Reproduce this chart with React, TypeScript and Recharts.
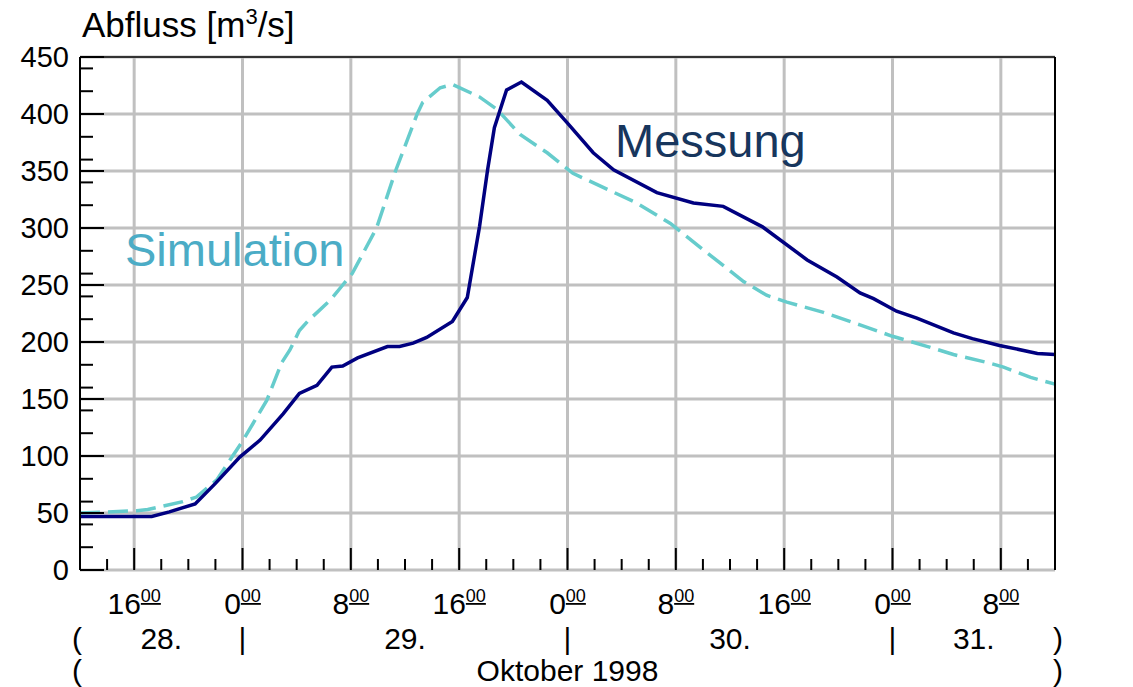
import React from 'react';
import { LineChart, Line, XAxis, YAxis, CartesianGrid, ReferenceLine } from 'recharts';

// hours since 28 Oct 12:00
const messungHours = [0, 5.3, 6.6, 8.5, 10, 11.8, 13.3, 15, 16.2, 17.5, 18.6, 19.4, 20.5, 22.7, 23.6, 24.6, 25.6, 27.5, 28.6, 29.5, 30.1, 30.6, 31.5, 32.6, 34.5, 36, 37.9, 39.4, 42.6, 45.3, 47.5, 50.4, 53.7, 55.9, 57.6, 58.6, 60.3, 61.8, 64.5, 65.9, 67.9, 70.7, 72];
const messungValues = [47, 47, 51, 58, 76, 99, 114, 137, 155, 162, 178, 179, 186, 196, 196, 199, 204, 218, 239, 301, 351, 388, 421, 428, 412, 392, 366, 351, 331, 322, 319, 301, 272, 257, 243, 238, 227, 221, 208, 203, 197, 190, 189];

const simHours = [0, 4.2, 5.0, 7.6, 8.6, 10.1, 12, 13.8, 14.9, 15.5, 16.2, 16.8, 18.5, 19.4, 20.1, 21.9, 23.3, 24.9, 25.3, 26.6, 27.5, 29.5, 30.8, 32.5, 34.5, 36.4, 38.2, 41.1, 43.6, 45.8, 49, 50.7, 52.2, 54.9, 57.6, 60, 62.6, 64.5, 67, 68.2, 70.2, 72];
const simValues = [50, 52, 53, 60, 64, 79, 113, 149, 182, 193, 210, 218, 237, 250, 260, 300, 350, 400, 410, 423, 426, 415, 404, 382, 366, 348, 338, 322, 304, 283, 253, 241, 235, 226, 215, 205, 196, 189, 182, 178, 169, 163];

const yLabelTicks = [0, 50, 100, 150, 200, 250, 300, 350, 400, 450];
const yMinorTicks = [0, 20, 40, 60, 80, 100, 120, 140, 160, 180, 200, 220, 240, 260, 280, 300, 320, 340, 360, 380, 400, 420, 440];

const xTicks = [0, 2, 4, 6, 8, 10, 12, 14, 16, 18, 20, 22, 24, 26, 28, 30, 32, 34, 36, 38, 40, 42, 44, 46, 48, 50, 52, 54, 56, 58, 60, 62, 64, 66, 68, 70, 72];
const majorHours = [4, 12, 20, 28, 36, 44, 52, 60, 68];
const majorLabels = ['16', '0', '8', '16', '0', '8', '16', '0', '8'];
const dayCenters = [6, 24, 48, 66];
const dayLabels = ['28.', '29.', '30.', '31.'];
const dayBounds = [12, 36, 60];
const monthCenter = 36;
const monthLabel = 'Oktober 1998';

const messungData = messungHours.map((h, i) => ({ h, v: messungValues[i] }));
const simData = simHours.map((h, i) => ({ h, v: simValues[i] }));
const yTicks = Array.from(new Set([...yLabelTicks, ...yMinorTicks])).sort((a, b) => a - b);

const FONT = '"Liberation Sans", Arial, sans-serif';

const XTick = (props: any) => {
  const { x, y, payload } = props;
  const h = payload.value;
  const mi = majorHours.indexOf(h);
  const di = dayCenters.indexOf(h);
  return (
    <g fontFamily={FONT} fill="#000">
      {h > 0 && h < 72 && (
        <line x1={x} x2={x} y1={y} y2={y - (mi >= 0 ? 22 : 11)} stroke="#000" strokeWidth={2} />
      )}
      {mi >= 0 && (
        <text x={x} y={y + 44} textAnchor="middle" fontSize={30}>
          {majorLabels[mi]}
          <tspan dy={-12} fontSize={18} textDecoration="underline">00</tspan>
        </text>
      )}
      {di >= 0 && (
        <text x={x} y={y + 79} textAnchor="middle" fontSize={30}>{dayLabels[di]}</text>
      )}
      {dayBounds.includes(h) && (
        <text x={x} y={y + 79} textAnchor="middle" fontSize={30}>|</text>
      )}
      {h === monthCenter && (
        <text x={x} y={y + 111} textAnchor="middle" fontSize={30}>{monthLabel}</text>
      )}
      {h === 0 && (
        <>
          <text x={x - 3} y={y + 79} textAnchor="middle" fontSize={30}>(</text>
          <text x={x - 3} y={y + 111} textAnchor="middle" fontSize={30}>(</text>
        </>
      )}
      {h === 72 && (
        <>
          <text x={x + 3} y={y + 79} textAnchor="middle" fontSize={30}>)</text>
          <text x={x + 3} y={y + 111} textAnchor="middle" fontSize={30}>)</text>
        </>
      )}
    </g>
  );
};

const YTick = (props: any) => {
  const { x, y, payload, side } = props;
  const v = payload.value;
  const major = yLabelTicks.includes(v);
  const dir = side === 'right' ? -1 : 1;
  return (
    <g fontFamily={FONT}>
      <line x1={x} x2={x + dir * (major ? 24 : 13)} y1={y} y2={y} stroke="#000" strokeWidth={2} />
      {major && (
        <text
          x={x - dir * 11}
          y={y}
          dy="0.36em"
          textAnchor={side === 'right' ? 'start' : 'end'}
          fontSize={29}
          fill="#000"
        >
          {v}
        </text>
      )}
    </g>
  );
};

export default function App() {
  return (
    <div style={{ position: 'absolute', left: 0, top: 0, width: 1133, height: 687, background: '#fff' }}>
      <LineChart width={1133} height={687} margin={{ top: 57, right: 0, bottom: 0, left: 0 }}>
        <CartesianGrid
          yAxisId="left"
          stroke="#c0c0c0"
          strokeWidth={3}
          verticalValues={majorHours}
          horizontalValues={yLabelTicks}
        />
        <XAxis
          type="number"
          dataKey="h"
          domain={[0, 72]}
          ticks={xTicks}
          interval={0}
          tickSize={0}
          tickMargin={0}
          axisLine={false}
          height={117}
          tick={(p: any) => <XTick {...p} />}
        />
        <YAxis
          yAxisId="left"
          domain={[0, 450]}
          ticks={yTicks}
          interval={0}
          width={80}
          tickSize={0}
          tickMargin={0}
          axisLine={{ stroke: '#000', strokeWidth: 2 }}
          tick={(p: any) => <YTick {...p} side="left" />}
        />
        <YAxis
          yAxisId="right"
          orientation="right"
          domain={[0, 450]}
          ticks={yTicks}
          interval={0}
          width={78}
          tickSize={0}
          tickMargin={0}
          axisLine={{ stroke: '#000', strokeWidth: 2 }}
          tick={(p: any) => <YTick {...p} side="right" />}
        />
        <ReferenceLine yAxisId="left" y={450} stroke="#333" strokeWidth={2} />
        <Line
          yAxisId="left"
          data={simData}
          dataKey="v"
          type="linear"
          stroke="#66cccc"
          strokeWidth={3.5}
          strokeDasharray="20 8"
          dot={false}
          isAnimationActive={false}
        />
        <Line
          yAxisId="left"
          data={messungData}
          dataKey="v"
          type="linear"
          stroke="#000080"
          strokeWidth={3.5}
          dot={false}
          isAnimationActive={false}
        />
      </LineChart>
      <svg
        width={1133}
        height={687}
        style={{ position: 'absolute', left: 0, top: 0, pointerEvents: 'none' }}
        fontFamily={FONT}
      >
        <text x={82} y={37} fontSize={35} fill="#000">
          Abfluss [m<tspan dy={-13} fontSize={22}>3</tspan><tspan dy={13}>/s]</tspan>
        </text>
        <text x={125} y={266} fontSize={47} fill="#4bacc6">Simulation</text>
        <text x={615} y={157} fontSize={47} fill="#17365d">Messung</text>
      </svg>
    </div>
  );
}
